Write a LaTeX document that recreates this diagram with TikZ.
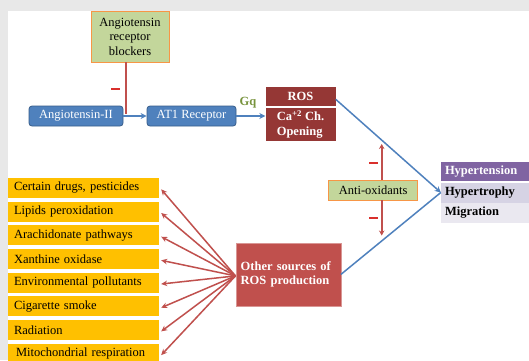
\documentclass[tikz,border=0pt]{standalone}
\usepackage{fontspec}
\setmainfont{Liberation Serif}
\usetikzlibrary{arrows.meta}
\definecolor{bluebox}{HTML}{4F81BD}
\definecolor{blueedge}{HTML}{385D8A}
\definecolor{greenfill}{HTML}{C3D69B}
\definecolor{orangeedge}{HTML}{F79646}
\definecolor{darkred}{HTML}{953735}
\definecolor{redbox}{HTML}{C0504D}
\definecolor{minusred}{HTML}{D9302C}
\definecolor{purplebox}{HTML}{8064A2}
\definecolor{lavone}{HTML}{D6D3E4}
\definecolor{lavtwo}{HTML}{EAE8F0}
\definecolor{goldbox}{HTML}{FFC000}
\definecolor{gqgreen}{HTML}{77933C}
\definecolor{greybg}{HTML}{E8E8E8}
\begin{document}
\begin{tikzpicture}[x=1pt,y=-1pt,
  txt/.style={font=\fontsize{12.5}{14.5}\selectfont},
  btxt/.style={font=\bfseries\fontsize{12.5}{14.5}\selectfont},
  greenbox/.style={txt, draw=orangeedge, fill=greenfill, line width=0.8pt, inner sep=0pt, align=center},
  bluenode/.style={txt, draw=blueedge, fill=bluebox, text=white, rounded corners=3pt, line width=0.8pt, minimum width=#1, minimum height=20pt, inner sep=0pt},
  rednode/.style={btxt, fill=darkred, text=white, minimum width=70pt, inner sep=0pt},
  outbox/.style={btxt, fill=#1, minimum height=20pt, text width=80pt, inner xsep=4pt, inner ysep=0pt, align=left},
  srcbox/.style={txt, fill=goldbox, minimum height=20pt, text width=139pt, inner xsep=6pt, inner ysep=0pt, align=left},
  minusbar/.style={fill=minusred, minimum width=9pt, minimum height=2.8pt, inner sep=0pt},
  bluearrow/.style={draw=bluebox, line width=1.5pt, -{Stealth[length=6pt,width=6pt]}},
  redarrow/.style={draw=redbox, line width=1.5pt, -{Stealth[length=6pt,width=5.5pt]}}
]
\useasboundingbox (0,0) rectangle (529,360);
\fill[greybg] (0,0) rectangle (529,360);
\fill[white] (8,11) rectangle (529,360);

% top chain
\node[greenbox, minimum width=78pt, minimum height=51pt] (arb) at (130,36.5) {Angiotensin\\receptor\\blockers};
\node[bluenode=94pt] (ang) at (76,116) {Angiotensin-II};
\node[bluenode=89pt] (at1) at (191.5,116) {AT1 Receptor};
\node[rednode, minimum height=19pt] (ros) at (300.5,96.3) {ROS};
\node[rednode, minimum height=33pt, align=left] (ca) at (300.5,124.5) {Ca\textsuperscript{+2} Ch.\\Opening};
\node[btxt, text=gqgreen, inner sep=0pt] (gq) at (248,103) {Gq};

\coordinate (blk) at (126,114);
\draw[draw=redbox, line width=2pt] (arb.south -| blk) -- (blk);
\node[minusbar] (m1) at (115,89) {};

\draw[bluearrow] (ang.east) -- (at1.west);
\draw[bluearrow] (at1.east) -- (ca.west |- at1.east);

% outcomes
\node[outbox=purplebox, text=white, minimum height=19pt] (hten) at (485,171.5) {Hypertension};
\node[outbox=lavone] (htro) at (485,192.5) {Hypertrophy};
\node[outbox=lavtwo] (mig) at (485,212.5) {Migration};

% anti-oxidants
\node[greenbox, minimum width=89pt, minimum height=20pt] (anti) at (373.2,190) {Anti-oxidants};
\coordinate (atop) at (381.7,144);
\coordinate (abot) at (381.7,235.5);
\draw[draw=redbox, line width=1.8pt, -{Stealth[length=5pt,width=5.5pt]}] (anti.north -| atop) -- (atop);
\draw[draw=redbox, line width=1.8pt, -{Stealth[length=5pt,width=5.5pt]}] (anti.south -| abot) -- (abot);
\node[minusbar] (m2) at (373.5,163) {};
\node[minusbar] (m3) at (373.5,218) {};

% other sources
\node[btxt, text=white, fill=redbox, draw=redbox!60!white, minimum width=105pt, minimum height=63pt, text width=95pt, inner xsep=5pt, align=left] (other) at (288.2,274.4) {Other sources of\\ROS production};

\draw[bluearrow] ([yshift=-3pt]ros.east) -- (htro.west);
\draw[draw=bluebox, line width=1.5pt] (other.east) -- (htro.west);

% source list
\node[srcbox] (s1) at (83.5,187.8) {Certain drugs, pesticides};
\node[srcbox] (s2) at (83.5,211.5) {Lipids peroxidation};
\node[srcbox] (s3) at (83.5,235.2) {Arachidonate pathways};
\node[srcbox] (s4) at (83.5,258.8) {Xanthine oxidase};
\node[srcbox] (s5) at (83.5,282.5) {Environmental pollutants};
\node[srcbox] (s6) at (83.5,306.2) {Cigarette smoke};
\node[srcbox] (s7) at (83.5,329.9) {Radiation};
\node[srcbox] (s8) at (83.5,353.6) {\hspace{2pt}Mitochondrial respiration};

\foreach \s in {s1,s2,s3,s4,s5,s6,s7,s8}
  \draw[redarrow] ([yshift=-1.5pt]other.west) -- ([xshift=2pt,yshift=-1.5pt]\s.east);
\end{tikzpicture}
\end{document}
